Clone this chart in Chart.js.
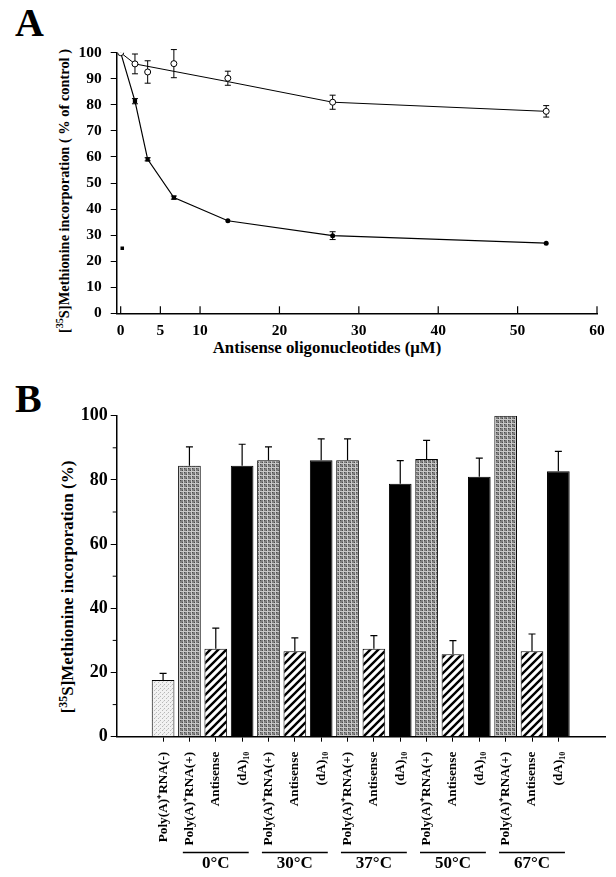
<!DOCTYPE html>
<html>
<head>
<meta charset="UTF-8">
<title>Methionine incorporation</title>
<script src="https://cdn.jsdelivr.net/npm/chart.js@4.4.0/dist/chart.umd.min.js"></script>
<style>
    body { margin: 0; width: 616px; height: 877px; background: #fff; position: relative; overflow: hidden;
           font-family: "Liberation Serif", "Times New Roman", serif; color: #000; }
    canvas { position: absolute; left: 0; }
    .letter { position: absolute; left: 15px; font-weight: bold; font-size: 40px; line-height: 1; }
    .title { position: absolute; font-weight: bold; white-space: nowrap; line-height: 1; }
    .rot { transform: translate(-50%, -50%) rotate(-90deg); }
    .hor { transform: translate(-50%, -50%); }
    sup { font-size: 0.7em; }
</style>
</head>
<body>

<div class="letter" style="top:3px">A</div>
<div class="title rot" style="left:63px; top:191px; font-size:14.4px">[<sup>35</sup>S]Methionine incorporation ( % of control )</div>
<div class="title hor" style="left:327px; top:348px; font-size:16.8px">Antisense oligonucleotides (&mu;M)</div>
<canvas id="chartA" width="616" height="370" style="top:0"></canvas>

<div class="letter" style="top:379px">B</div>
<div class="title rot" style="left:67px; top:587px; font-size:17px">[<sup>35</sup>S]Methionine incorporation (%)</div>
<canvas id="chartB" width="616" height="497" style="top:380px"></canvas>

<script>
    // ---- panel A data ----
    const doses = [0, 1.8, 3.4, 6.7, 13.5, 26.7, 53.6];
    const openVals = [100, 95.7, 92.6, 95.8, 90.2, 81.0, 77.5];
    const openErr = [0, 3.8, 4.3, 5.4, 2.7, 2.7, 2.2];
    const openFitX = [0, 1.8, 13.5, 26.7, 53.6];
    const openFitY = [100, 95.7, 88.9, 81.0, 77.5];
    const filledVals = [100, 81.4, 59.1, 44.4, 35.5, 29.8, 26.9];
    const filledErr = [0, 1.0, 0.6, 0.6, 0, 1.5, 0];
    const filledStyle = ['circle', 'rect', 'rect', 'rect', 'circle', 'circle', 'circle'];
    const loneX = [0.2];
    const loneY = [25];
    const xTicksA = [0, 5, 10, 20, 30, 40, 50, 60];

    // ---- panel B data ----
    const barLabels = ['Poly(A)⁺RNA(-)',
        'Poly(A)⁺RNA(+)', 'Antisense', '(dA)₁₀',
        'Poly(A)⁺RNA(+)', 'Antisense', '(dA)₁₀',
        'Poly(A)⁺RNA(+)', 'Antisense', '(dA)₁₀',
        'Poly(A)⁺RNA(+)', 'Antisense', '(dA)₁₀',
        'Poly(A)⁺RNA(+)', 'Antisense', '(dA)₁₀'];
    const barVals = [17.7, 84.4, 27.4, 84.4, 86.1, 26.6, 86.1, 86.1, 27.4, 78.8, 86.5, 25.7, 81.0, 100, 26.6, 82.7];
    const barErr = [2.0, 5.9, 6.4, 6.7, 4.2, 4.2, 6.7, 6.7, 4.1, 7.2, 5.8, 4.2, 5.8, 0, 5.4, 6.2];
    const temps = ['0°C', '30°C', '37°C', '50°C', '67°C'];
    const groupStart = [1, 4, 7, 10, 13];

    const serif = '"Liberation Serif", "Times New Roman", serif';
    const pair = (xs, ys) => xs.map((x, i) => ({ x: x, y: ys[i] }));

    // error bars, drawn under the markers
    const errPlugin = {
        id: 'errs',
        beforeDatasetsDraw(chart) {
            const ctx = chart.ctx, y = chart.scales.y;
            ctx.save();
            ctx.strokeStyle = '#000';
            ctx.lineWidth = 1;
            chart.data.datasets.forEach((ds, di) => {
                if (!ds.errs) return;
                chart.getDatasetMeta(di).data.forEach((pt, i) => {
                    const e = ds.errs[i];
                    if (!e) return;
                    const v = ds.data[i].y;
                    const t = y.getPixelForValue(v + e), b = y.getPixelForValue(v - e);
                    ctx.beginPath();
                    ctx.moveTo(pt.x, t); ctx.lineTo(pt.x, b);
                    ctx.moveTo(pt.x - 3, t); ctx.lineTo(pt.x + 3, t);
                    ctx.moveTo(pt.x - 3, b); ctx.lineTo(pt.x + 3, b);
                    ctx.stroke();
                });
            });
            ctx.restore();
        },
        afterDraw(chart) {
            // x ticks point inwards on panel A
            const ctx = chart.ctx, x = chart.scales.x, bottom = chart.chartArea.bottom;
            ctx.save();
            ctx.strokeStyle = '#000';
            ctx.lineWidth = 1.2;
            xTicksA.forEach(v => {
                const px = x.getPixelForValue(v);
                ctx.beginPath(); ctx.moveTo(px, bottom); ctx.lineTo(px, bottom - 7); ctx.stroke();
            });
            ctx.restore();
        }
    };

    new Chart(document.getElementById('chartA'), {
        type: 'scatter',
        data: {
            datasets: [{
                data: pair(openFitX, openFitY),
                showLine: true, pointRadius: 0, borderColor: '#000', borderWidth: 1, order: 3
            }, {
                data: pair(doses, openVals), errs: openErr,
                showLine: false, pointRadius: 3, pointStyle: 'circle',
                backgroundColor: '#fff', borderColor: '#000', borderWidth: 1, order: 0
            }, {
                data: pair(doses, filledVals), errs: filledErr,
                showLine: true, borderColor: '#000', borderWidth: 1.2,
                pointStyle: filledStyle, pointRadius: [0, 3, 3, 3, 2.5, 2.5, 2.5],
                backgroundColor: '#000', pointBorderWidth: 0, order: 1
            }, {
                data: pair(loneX, loneY),
                pointStyle: 'rect', pointRadius: 2.5, backgroundColor: '#000', borderWidth: 0, order: 1
            }]
        },
        options: {
            responsive: false,
            animation: false,
            layout: { padding: { top: 52.7, right: 19, left: 0, bottom: 0 } },
            plugins: { legend: { display: false }, tooltip: { enabled: false } },
            scales: {
                x: {
                    type: 'linear', min: -0.5, max: 60,
                    afterBuildTicks: s => { s.ticks = xTicksA.map(v => ({ value: v })); },
                    afterFit: s => { s.height = 56.7; },
                    grid: { drawOnChartArea: false, drawTicks: false },
                    border: { color: '#000', width: 1.5 },
                    ticks: { color: '#000', padding: 8, font: { family: serif, size: 15.5, weight: 'bold' } }
                },
                y: {
                    min: 0, max: 100,
                    afterFit: s => { s.width = 116.7; },
                    grid: { drawOnChartArea: false, tickLength: 6, tickColor: '#000' },
                    border: { color: '#000', width: 1.5 },
                    ticks: { stepSize: 10, color: '#000', padding: 9, font: { family: serif, size: 15.5, weight: 'bold' } }
                }
            }
        },
        plugins: [errPlugin]
    });

    // ---- fill patterns for panel B ----
    function makePattern(size, paint) {
        const c = document.createElement('canvas');
        c.width = size; c.height = size;
        paint(c.getContext('2d'));
        return c.getContext('2d').createPattern(c, 'repeat');
    }
    const ctxB = document.getElementById('chartB').getContext('2d');
    const stipple = makePattern(4, g => {
        g.fillStyle = '#f2f2f2'; g.fillRect(0, 0, 4, 4);
        g.fillStyle = '#b8b8b8'; g.fillRect(0, 0, 1, 1); g.fillRect(2, 2, 1, 1);
        g.fillStyle = '#d4d4d4'; g.fillRect(3, 1, 1, 1);
    });
    const grey = makePattern(4, g => {
        g.fillStyle = '#7e7e7e'; g.fillRect(0, 0, 4, 4);
        g.fillStyle = '#4a4a4a'; g.fillRect(0, 0, 1, 1); g.fillRect(2, 2, 1, 1);
        g.fillStyle = '#c8c8c8'; g.fillRect(3, 0, 1, 4); g.fillRect(0, 3, 4, 1);
    });
    const hatch = makePattern(8, g => {
        g.fillStyle = '#fff'; g.fillRect(0, 0, 8, 8);
        g.strokeStyle = '#000'; g.lineWidth = 2.4;
        g.beginPath();
        g.moveTo(-4, 4); g.lineTo(4, -4);
        g.moveTo(0, 8); g.lineTo(8, 0);
        g.moveTo(4, 12); g.lineTo(12, 4);
        g.stroke();
    });
    const fills = barLabels.map(l => l.endsWith('(-)') ? stipple : l.endsWith('(+)') ? grey : l === 'Antisense' ? hatch : '#000');

    const barPlugin = {
        id: 'barExtras',
        afterDatasetsDraw(chart) {
            const ctx = chart.ctx, y = chart.scales.y;
            ctx.save();
            ctx.strokeStyle = '#000';
            ctx.lineWidth = 1.2;
            chart.getDatasetMeta(0).data.forEach((bar, i) => {
                if (!barErr[i]) return;
                const t = y.getPixelForValue(barVals[i] + barErr[i]);
                ctx.beginPath();
                ctx.moveTo(bar.x, bar.y); ctx.lineTo(bar.x, t);
                ctx.moveTo(bar.x - 3.5, t); ctx.lineTo(bar.x + 3.5, t);
                ctx.stroke();
            });
            ctx.restore();
        },
        afterDraw(chart) {
            const ctx = chart.ctx, x = chart.scales.x, y = chart.scales.y;
            const left = chart.chartArea.left;
            ctx.save();
            ctx.strokeStyle = '#000';
            ctx.fillStyle = '#000';
            // minor ticks on the y axis
            ctx.lineWidth = 1;
            [10, 30, 50, 70, 90].forEach(v => {
                const py = y.getPixelForValue(v);
                ctx.beginPath(); ctx.moveTo(left - 4, py); ctx.lineTo(left, py); ctx.stroke();
            });
            // temperature groups under the labels
            ctx.lineWidth = 1.5;
            ctx.font = 'bold 17px ' + serif;
            ctx.textAlign = 'center';
            ctx.textBaseline = 'middle';
            temps.forEach((t, g) => {
                const x1 = x.getPixelForValue(groupStart[g] - 0.25);
                const x2 = x.getPixelForValue(groupStart[g] + 2.25);
                ctx.beginPath(); ctx.moveTo(x1, 472.5); ctx.lineTo(x2, 472.5); ctx.stroke();
                ctx.fillText(t, (x1 + x2) / 2, 484);
            });
            ctx.restore();
        }
    };

    new Chart(ctxB, {
        type: 'bar',
        data: {
            datasets: [{
                data: barVals.map((v, i) => ({ x: i, y: v })),
                backgroundColor: fills,
                borderColor: '#000',
                borderWidth: 1,
                barPercentage: 0.86,
                categoryPercentage: 1
            }]
        },
        options: {
            responsive: false,
            animation: false,
            layout: { padding: { top: 35.7, right: 11, left: 0, bottom: 0 } },
            plugins: { legend: { display: false }, tooltip: { enabled: false } },
            scales: {
                x: {
                    type: 'linear', min: -1.76, max: 16.77, offset: false,
                    afterBuildTicks: s => { s.ticks = barLabels.map((l, i) => ({ value: i })); },
                    afterFit: s => { s.height = 140.3; },
                    grid: { drawOnChartArea: false, tickLength: 5, tickColor: '#000', offset: false },
                    border: { color: '#000', width: 1.5 },
                    ticks: {
                        autoSkip: false, minRotation: 90, maxRotation: 90, padding: 10, color: '#000',
                        callback: v => barLabels[v],
                        font: { family: serif, size: 13.3, weight: 'bold' }
                    }
                },
                y: {
                    min: 0, max: 100,
                    afterFit: s => { s.width = 116.7; },
                    grid: { drawOnChartArea: false, tickLength: 6, tickColor: '#000' },
                    border: { color: '#000', width: 1.5 },
                    ticks: { stepSize: 20, color: '#000', padding: 3, font: { family: serif, size: 18, weight: 'bold' } }
                }
            }
        },
        plugins: [barPlugin]
    });
</script>
</body>
</html>
